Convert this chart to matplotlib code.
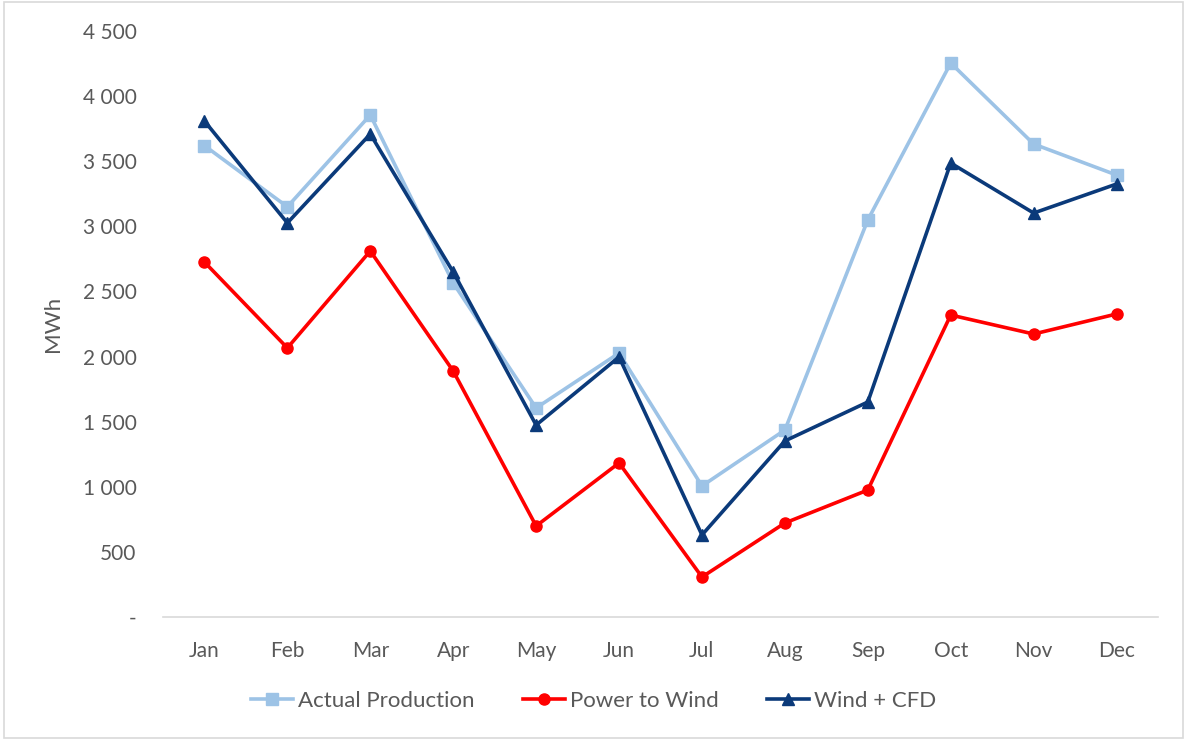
import matplotlib.pyplot as plt
from matplotlib.ticker import FuncFormatter

plt.rcParams['font.family'] = ['Lato', 'DejaVu Sans']

months = ['Jan', 'Feb', 'Mar', 'Apr', 'May', 'Jun', 'Jul', 'Aug', 'Sep', 'Oct', 'Nov', 'Dec']

actual_production = [3620, 3150, 3855, 2565, 1605, 2027, 1006, 1436, 3049, 4254, 3632, 3394]
power_to_wind = [2726, 2066, 2811, 1889, 699, 1183, 307, 722, 975, 2319, 2173, 2327]
wind_cfd = [3809, 3026, 3709, 2649, 1474, 1997, 630, 1352, 1651, 3486, 3102, 3325]

y_ticks = [0, 500, 1000, 1500, 2000, 2500, 3000, 3500, 4000, 4500]

fig = plt.figure(figsize=(11.87, 7.40), dpi=100)
ax = fig.add_axes([0.1373, 0.1662, 0.8383, 0.7919])

x = range(len(months))
ax.plot(x, actual_production, marker='s', markersize=8, color='#9dc3e6', linewidth=2.6, label='Actual Production')
ax.plot(x, power_to_wind, marker='o', markersize=8, color='#ff0000', linewidth=2.6, label='Power to Wind')
ax.plot(x, wind_cfd, marker='^', markersize=8, color='#0b3a7a', linewidth=2.6, label='Wind + CFD')

def fmt(v, pos):
    if v == 0:
        return '-'
    return f'{int(v):,}'.replace(',', ' ')

ax.set_xlim(-0.5, 11.5)
ax.set_ylim(0, 4500)
ax.set_yticks(y_ticks)
ax.yaxis.set_major_formatter(FuncFormatter(fmt))
ax.set_xticks(list(x))
ax.set_xticklabels(months)
ax.tick_params(axis='both', length=0, labelsize=15, colors='#595959')
ax.tick_params(axis='y', pad=19)
ax.tick_params(axis='x', pad=17)
ax.set_ylabel('MWh', fontsize=16, color='#595959', labelpad=14)

for s in ['top', 'right', 'left']:
    ax.spines[s].set_visible(False)
ax.spines['bottom'].set_color('#d9d9d9')
ax.spines['bottom'].set_linewidth(1.2)

fig.legend(loc='center', bbox_to_anchor=(0.5, 0.053), ncol=3, frameon=False,
           fontsize=16, labelcolor='#595959', handlelength=1.9, columnspacing=2.2,
           handletextpad=0.2)

border = plt.Rectangle((0.003, 0.003), 0.994, 0.994, transform=fig.transFigure,
                       fill=False, edgecolor='#d9d9d9', linewidth=1.2)
fig.patches.append(border)

plt.savefig('out.png', dpi=100)
